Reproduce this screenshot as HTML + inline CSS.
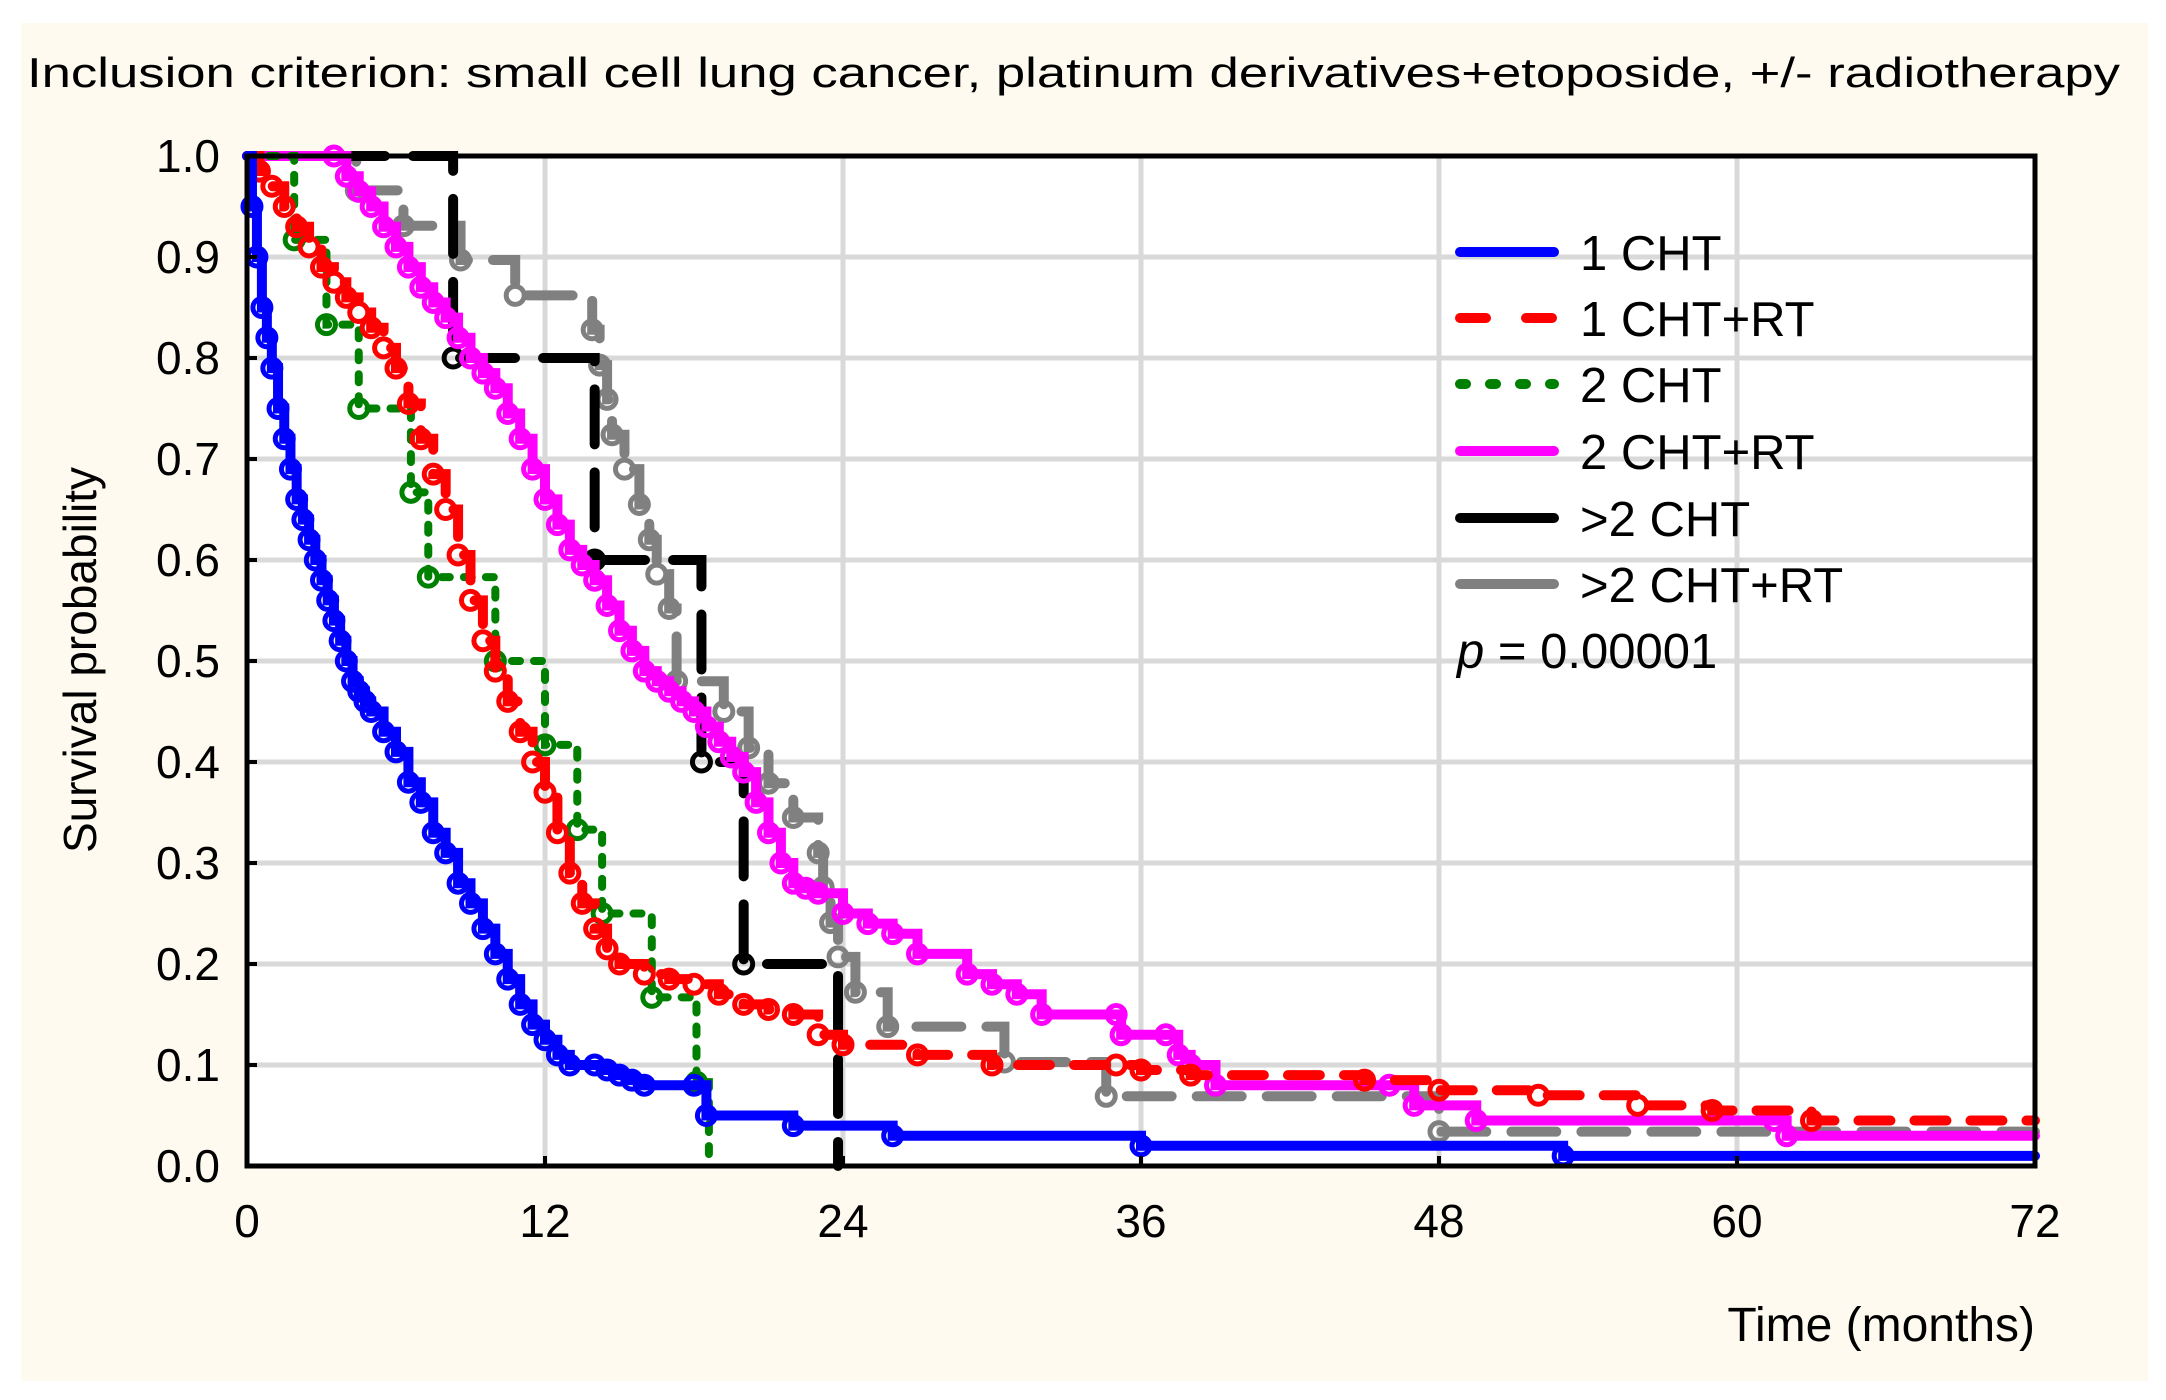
<!DOCTYPE html>
<html><head><meta charset="utf-8"><style>
html,body{margin:0;padding:0;background:#fff;}
svg{display:block;font-family:"Liberation Sans",sans-serif;}
</style></head><body>
<svg id="chart" width="2166" height="1400" viewBox="0 0 2166 1400" xmlns="http://www.w3.org/2000/svg">
<rect x="21" y="23" width="2127" height="1358" fill="#fefaef"/>
<text x="27" y="87" font-size="42" textLength="2093" lengthAdjust="spacingAndGlyphs">Inclusion criterion: small cell lung cancer, platinum derivatives+etoposide, +/- radiotherapy</text>
<rect x="247" y="156" width="1788" height="1010" fill="#fff"/>
<g id="grid"></g>
<g id="series"></g>
<rect x="247" y="156" width="1788" height="1010" fill="none" stroke="#000" stroke-width="5"/>
<g id="axes"></g>
<text x="0" y="0" font-size="46" text-anchor="middle" transform="translate(96,660) rotate(-90)">Survival probability</text>
<text x="2035" y="1341" font-size="48" text-anchor="end">Time (months)</text>
<g id="legend"></g>
</svg>
<script>
const xTicks = [0, 12, 24, 36, 48, 60, 72];
const yTicks = [0.0, 0.1, 0.2, 0.3, 0.4, 0.5, 0.6, 0.7, 0.8, 0.9, 1.0];
const seriesNames = ["1 CHT", "1 CHT+RT", "2 CHT", "2 CHT+RT", ">2 CHT", ">2 CHT+RT"];
const cht1T = [0,0.2,0.4,0.6,0.8,1,1.25,1.5,1.75,2,2.25,2.5,2.75,3,3.25,3.5,3.75,4,4.25,4.5,4.75,5,5.5,6,6.5,7,7.5,8,8.5,9,9.5,10,10.5,11,11.5,12,12.5,13,14,14.5,15,15.5,16,18,18.5,22,26,36,53,72];
const cht1S = [1,0.95,0.9,0.85,0.82,0.79,0.75,0.72,0.69,0.66,0.64,0.62,0.60,0.58,0.56,0.54,0.52,0.50,0.48,0.47,0.46,0.45,0.43,0.41,0.38,0.36,0.33,0.31,0.28,0.26,0.235,0.21,0.185,0.16,0.14,0.125,0.11,0.10,0.10,0.095,0.09,0.085,0.08,0.08,0.05,0.04,0.03,0.02,0.01,0.01];
const cht1rtT = [0,0.5,1,1.5,2,2.5,3,3.5,4,4.5,5,5.5,6,6.5,7,7.5,8,8.5,9,9.5,10,10.5,11,11.5,12,12.5,13,13.5,14,14.5,15,16,17,18,19,20,21,22,23,24,27,30,35,36,38,45,48,52,56,59,63,72];
const cht1rtS = [1,0.985,0.97,0.95,0.93,0.91,0.89,0.875,0.86,0.845,0.83,0.81,0.79,0.755,0.72,0.685,0.65,0.605,0.56,0.52,0.49,0.46,0.43,0.40,0.37,0.33,0.29,0.26,0.235,0.215,0.20,0.19,0.185,0.18,0.17,0.16,0.155,0.15,0.13,0.12,0.11,0.10,0.10,0.095,0.09,0.085,0.075,0.07,0.06,0.055,0.045,0.045];
const cht2T = [0,1.9,3.2,4.5,6.6,7.3,10.0,12.0,13.3,14.3,16.3,18.1,18.6];
const cht2S = [1,0.917,0.833,0.75,0.667,0.583,0.5,0.417,0.333,0.25,0.167,0.083,0];
const cht2rtT = [0,3.5,4,4.5,5,5.5,6,6.5,7,7.5,8,8.5,9,9.5,10,10.5,11,11.5,12,12.5,13,13.5,14,14.5,15,15.5,16,16.5,17,17.5,18,18.5,19,19.5,20,20.5,21,21.5,22,22.5,23,24,25,26,27,29,30,31,32,35,35.2,37,37.5,38,39,46,47,49.5,61.5,62,72];
const cht2rtS = [1,1,0.98,0.965,0.95,0.93,0.91,0.89,0.87,0.855,0.84,0.82,0.80,0.785,0.77,0.745,0.72,0.69,0.66,0.635,0.61,0.595,0.58,0.555,0.53,0.51,0.49,0.48,0.47,0.46,0.45,0.435,0.42,0.405,0.39,0.36,0.33,0.30,0.28,0.275,0.27,0.25,0.24,0.23,0.21,0.19,0.18,0.17,0.15,0.15,0.13,0.13,0.11,0.10,0.08,0.08,0.06,0.045,0.045,0.03,0.03];
const cht3T = [0,8.3,14.0,18.3,20.0,23.8];
const cht3S = [1,0.8,0.6,0.4,0.2,0];
const cht3rtT = [0,4.4,6.3,8.6,10.8,13.9,14.2,14.5,14.7,15.2,15.8,16.2,16.5,17.0,17.3,19.2,20.2,21.0,22.0,23.0,23.2,23.5,23.8,24.5,25.8,30.5,34.6,48,72];
const cht3rtS = [1,0.966,0.931,0.897,0.862,0.828,0.793,0.759,0.724,0.69,0.655,0.62,0.586,0.552,0.48,0.45,0.414,0.379,0.345,0.31,0.276,0.241,0.207,0.172,0.138,0.103,0.069,0.034,0.034];

const NS = "http://www.w3.org/2000/svg";
const X0 = 247, X1 = 2035, Y0 = 1166, Y1 = 156;
function xs(t){ return X0 + t / 72 * (X1 - X0); }
function ys(s){ return Y0 - s * (Y0 - Y1); }
function mk(tag, attrs, parent){ const e = document.createElementNS(NS, tag); for (const k in attrs) e.setAttribute(k, attrs[k]); parent.appendChild(e); return e; }

const grid = document.getElementById('grid');
xTicks.forEach(t => {
  if (t === 0 || t === 72) return;
  const l = mk('line', {x1: xs(t), x2: xs(t), y1: Y1, y2: Y0, stroke: '#d9d9d9', 'stroke-width': 5}, grid);
  
  
});
yTicks.forEach(s => {
  if (s === 0) return;
  const l = mk('line', {x1: X0, x2: X1, y1: ys(s), y2: ys(s), stroke: '#d9d9d9', 'stroke-width': 5}, grid);
  
  
});

const axes = document.getElementById('axes');
xTicks.forEach(t => {
  const tk = mk('line', {x1: xs(t), x2: xs(t), y1: Y0, y2: Y0 - 10, stroke: '#000', 'stroke-width': 4}, axes);
  
  
  const tx = mk('text', {x: xs(t), y: 1237, 'font-size': 46, 'text-anchor': 'middle'}, axes);
  tx.textContent = String(t);
  
  
});
yTicks.forEach(s => {
  const tk = mk('line', {x1: X0, x2: X0 + 10, y1: ys(s), y2: ys(s), stroke: '#000', 'stroke-width': 4}, axes);
  
  
  const tx = mk('text', {x: 220, y: ys(s) + 16, 'font-size': 46, 'text-anchor': 'end'}, axes);
  tx.textContent = s.toFixed(1);
  
  
});

const styles = [
  {c: '#0000ff', dash: 'none', w: 10},
  {c: '#ff0000', dash: '32 24', w: 10},
  {c: '#008000', dash: '8 14', w: 8},
  {c: '#ff00ff', dash: 'none', w: 10},
  {c: '#000000', dash: '55 28', w: 10},
  {c: '#808080', dash: '45 25', w: 10}
];
const data = [[cht1T,cht1S],[cht1rtT,cht1rtS],[cht2T,cht2S],[cht2rtT,cht2rtS],[cht3T,cht3S],[cht3rtT,cht3rtS]];
const sg = document.getElementById('series');
const order = [5, 4, 3, 2, 1, 0];
order.forEach(i => {
  const [T, S] = data[i];
  const st = styles[i];
  const g = mk('g', {}, sg);
  
  
  let d = 'M' + xs(T[0]) + ' ' + ys(S[0]);
  for (let k = 1; k < T.length; k++) d += ' H' + xs(T[k]) + ' V' + ys(S[k]);
  const p = mk('path', {d: d, fill: 'none', stroke: st.c, 'stroke-width': st.w, 'stroke-dasharray': st.dash, 'stroke-linecap': 'round'}, g);
  
  
  for (let k = 1; k < T.length - 1; k++) {
    const c = mk('circle', {cx: xs(T[k]), cy: ys(S[k]), r: 9, fill: 'none', stroke: st.c, 'stroke-width': 5}, g);
    
    
  }
});

const lg = document.getElementById('legend');
const rowsY = [252, 318, 384, 451, 518, 584];
seriesNames.forEach((n, i) => {
  const st = styles[i];
  const l = mk('line', {x1: 1460, x2: 1554, y1: rowsY[i], y2: rowsY[i], stroke: st.c, 'stroke-width': 10, 'stroke-linecap': 'round', 'stroke-dasharray': i === 1 ? '26 40' : (i === 2 ? '6 24' : 'none')}, lg);
  
  
  const t = mk('text', {x: 1580, y: rowsY[i] + 18, 'font-size': 49}, lg);
  t.textContent = n;
  
  
});
const pt = mk('text', {x: 1457, y: 668, 'font-size': 49}, lg);
pt.innerHTML = '<tspan font-style="italic">p</tspan> = 0.00001';


</script>
</body></html>
